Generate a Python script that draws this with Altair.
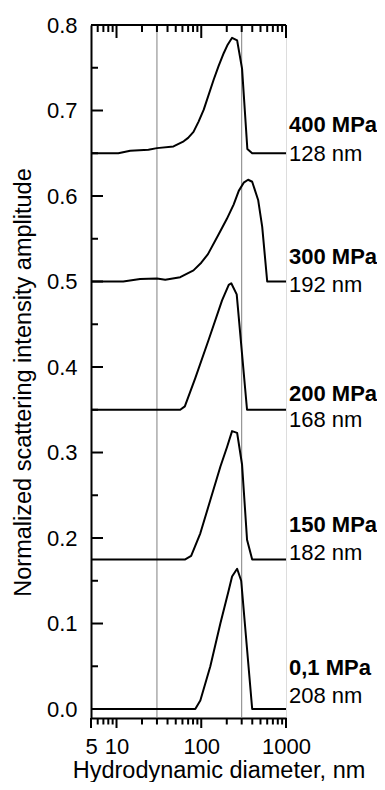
import altair as alt
import pandas as pd

W, H = 195, 693
FONT = "Liberation Sans, Arial, Helvetica, sans-serif"

# ---- data ----
series = ["0,1 MPa", "150 MPa", "200 MPa", "300 MPa", "400 MPa"]
sizes = ["208 nm", "182 nm", "168 nm", "192 nm", "128 nm"]
name_y = [0.040, 0.207, 0.360, 0.5205, 0.675]   # label baselines (data units)
size_y = [0.007, 0.174, 0.330, 0.4877, 0.641]

x_01 = [5, 85, 97.5, 128, 168, 211, 231, 265, 296, 399, 1000]
y_01 = [0.0, 0.0, 0.010, 0.050, 0.100, 0.139, 0.155, 0.164, 0.150, 0.0, 0.0]

x_150 = [5, 64.7, 76, 97.5, 128, 168, 202, 231, 265, 303, 347, 399, 1000]
y_150 = [0.175, 0.175, 0.179, 0.2055, 0.2444, 0.2834, 0.3068, 0.325, 0.323, 0.286, 0.198, 0.175, 0.175]

x_200 = [5, 56.5, 64, 85, 122, 176, 211, 226, 262, 347, 1000]
y_200 = [0.35, 0.35, 0.354, 0.387, 0.4316, 0.478, 0.496, 0.498, 0.485, 0.35, 0.35]

x_300 = [5, 12, 19, 30, 37.6, 56.5, 81, 100, 120, 160, 200, 241, 277, 317, 357, 399, 470, 524, 600, 1000]
y_300 = [0.500, 0.500, 0.503, 0.5035, 0.502, 0.505, 0.513, 0.522, 0.532, 0.555, 0.573, 0.590, 0.606, 0.6156, 0.619, 0.6167, 0.595, 0.564, 0.500, 0.500]

x_400 = [5, 10.5, 14.5, 23.8, 30, 47, 62, 70, 81, 93, 107, 140, 160, 184, 205, 231, 265, 303, 350, 399, 1000]
y_400 = [0.650, 0.650, 0.653, 0.654, 0.656, 0.658, 0.664, 0.668, 0.675, 0.687, 0.701, 0.736, 0.752, 0.767, 0.777, 0.785, 0.782, 0.749, 0.655, 0.650, 0.650]

ref_lines = [30, 300]

y_major = [0.0, 0.1, 0.2, 0.3, 0.4, 0.5, 0.6, 0.7, 0.8]
y_minor = [0.05, 0.15, 0.25, 0.35, 0.45, 0.55, 0.65, 0.75]
x_major = [10, 100, 1000]
x_minor = [6, 7, 8, 9, 20, 30, 40, 50, 60, 70, 80, 90, 200, 300, 400, 500, 600, 700, 800, 900]
x_labels = [5, 10, 100, 1000]

X_TITLE = "Hydrodynamic diameter, nm"
Y_TITLE = "Normalized scattering intensity amplitude"

# ---- tables ----
rows = []
for name, xs, ys in zip(series, [x_01, x_150, x_200, x_300, x_400],
                        [y_01, y_150, y_200, y_300, y_400]):
    for i, (a, b) in enumerate(zip(xs, ys)):
        rows.append({"series": name, "d": a, "v": b, "i": i})
df = pd.DataFrame(rows)
lab = pd.DataFrame({"name": series, "size": sizes, "v": name_y, "v2": size_y})

xs_ = alt.Scale(type="log", domain=[5, 1000], nice=False, zero=False)
ys_ = alt.Scale(domain=[-0.0105, 0.8], nice=False, zero=False)

X_AXIS = alt.Axis(values=x_labels, format="d", ticks=False, grid=False,
                  labelFontSize=22, labelPadding=18, labelFlush=False,
                  labelOverlap=False, labelFont=FONT, labelColor="black",
                  domainColor="black", domainWidth=2,
                  titleFontSize=23.5, titleFontWeight="normal", titleFont=FONT,
                  titleColor="black", titleX=127.5, titleY=59,
                  titleBaseline="alphabetic", titleAlign="center")
Y_AXIS = alt.Axis(values=y_major, format=".1f", ticks=False, grid=False,
                  labelFontSize=22, labelPadding=14, labelFont=FONT,
                  labelColor="black", domainColor="black", domainWidth=2,
                  titleFontSize=23.5, titleFontWeight="normal", titleFont=FONT,
                  titleColor="black", titleX=-61, titleY=357,
                  titleBaseline="alphabetic", titleAlign="center", titleAngle=270)


def xe(field):
    return alt.X(field, type="quantitative", scale=xs_, title=X_TITLE, axis=X_AXIS)


def ye(field):
    return alt.Y(field, type="quantitative", scale=ys_, title=Y_TITLE, axis=Y_AXIS)


vlines = alt.Chart(pd.DataFrame({"d": ref_lines})).mark_rule(
    color="#808080", strokeWidth=1).encode(x=xe("d"))

lines = alt.Chart(df).mark_line(color="black", strokeWidth=2, strokeJoin="round").encode(
    x=xe("d"), y=ye("v"), detail="series:N", order="i:Q")

top_frame = alt.Chart(pd.DataFrame({"v": [0.8]})).mark_rule(
    color="black", strokeWidth=2).encode(y=ye("v"))


def yticks(vals, length):
    return alt.Chart(pd.DataFrame({"v": vals})).mark_rule(color="black", strokeWidth=2).encode(
        y=ye("v"), x=alt.value(0), x2=alt.value(length))


def xticks(vals, y0, y1):
    return alt.Chart(pd.DataFrame({"d": vals})).mark_rule(color="black", strokeWidth=2).encode(
        x=xe("d"), y=alt.value(y0), y2=alt.value(y1))


ticks = [
    yticks(y_major, 12), yticks(y_minor, 7),
    xticks(x_major, 0, 13), xticks(x_minor, 0, 7),
    xticks([5] + x_major, H, H + 10), xticks(x_minor, H, H + 6.5),
]

names = alt.Chart(lab).mark_text(align="left", baseline="alphabetic", fontSize=22,
                                 fontWeight="bold", font=FONT, color="black").encode(
    x=alt.value(W + 3), y=ye("v"), text="name:N")
nms = alt.Chart(lab).mark_text(align="left", baseline="alphabetic", fontSize=22,
                               font=FONT, color="black").encode(
    x=alt.value(W + 3), y=ye("v2"), text="size:N")

chart = alt.layer(vlines, lines, top_frame, *ticks, names, nms).properties(
    width=W, height=H,
    autosize=alt.AutoSizeParams(type="none"),
    padding={"left": 83, "top": 17, "right": 91, "bottom": 64},
).configure_view(stroke=None).configure(background="white")

chart.save("out.html", embed_options={"renderer": "svg", "actions": False})
